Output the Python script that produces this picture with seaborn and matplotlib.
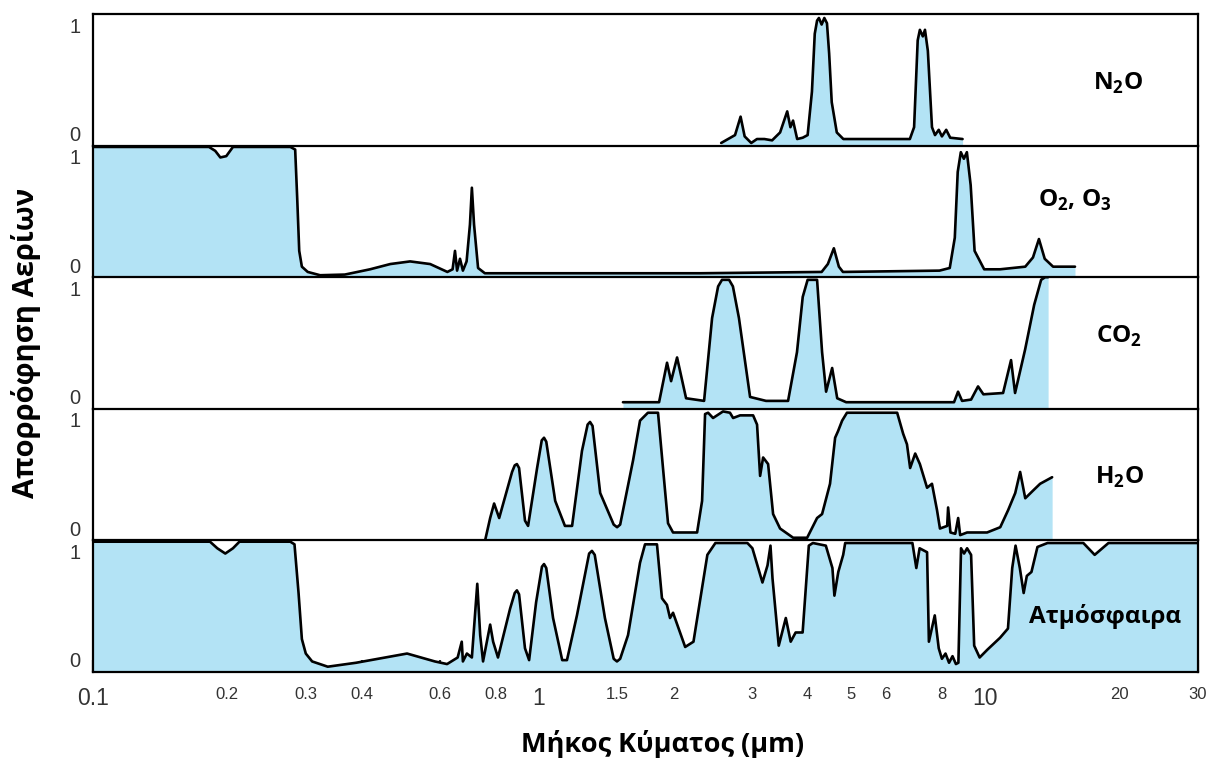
import numpy as np
import pandas as pd
import seaborn as sns
import matplotlib.pyplot as plt
from matplotlib.ticker import NullLocator
from matplotlib.transforms import ScaledTranslation

# wavelength (um) and absorption (0..1), one pair per gas
n2o_wl = [2.56, 2.75, 2.83, 2.89, 2.99, 3.08, 3.2, 3.33, 3.47, 3.6, 3.66, 3.71, 3.79, 3.9, 4.0,
          4.09, 4.15, 4.2, 4.24, 4.3, 4.36, 4.42, 4.47, 4.53, 4.65, 4.81, 6.78, 6.93, 7.06, 7.14,
          7.25, 7.33, 7.44, 7.6, 7.72, 7.87, 8.0, 8.18, 8.35, 8.9]
n2o_abs = [0.02, 0.08, 0.22, 0.07, 0.02, 0.05, 0.05, 0.04, 0.10, 0.26, 0.14, 0.19, 0.05, 0.06, 0.08,
           0.41, 0.85, 0.95, 0.97, 0.92, 0.97, 0.93, 0.70, 0.33, 0.10, 0.05, 0.05, 0.14, 0.80, 0.88,
           0.83, 0.88, 0.72, 0.14, 0.08, 0.12, 0.07, 0.12, 0.06, 0.05]

o3_wl = [0.1, 0.182, 0.188, 0.193, 0.199, 0.206, 0.277, 0.284, 0.287, 0.29, 0.294, 0.303, 0.323,
         0.367, 0.418, 0.464, 0.514, 0.57, 0.623, 0.64, 0.648, 0.655, 0.665, 0.675, 0.688, 0.70,
         0.707, 0.715, 0.73, 0.756, 2.3, 4.3, 4.44, 4.58, 4.7, 4.8, 7.9, 8.33, 8.55, 8.68, 8.82,
         8.96, 9.1, 9.28, 9.47, 9.95, 10.8, 12.3, 12.8, 13.2, 13.6, 14.2, 15.9]
o3_abs = [0.99, 0.99, 0.96, 0.91, 0.92, 0.99, 0.99, 0.97, 0.6, 0.2, 0.08, 0.04, 0.015,
          0.02, 0.06, 0.10, 0.12, 0.10, 0.04, 0.06, 0.20, 0.05, 0.14, 0.05, 0.12, 0.4,
          0.68, 0.4, 0.07, 0.03, 0.03, 0.04, 0.10, 0.22, 0.08, 0.04, 0.05, 0.07, 0.3, 0.8, 0.95,
          0.9, 0.95, 0.7, 0.2, 0.06, 0.06, 0.08, 0.15, 0.29, 0.14, 0.08, 0.08]

co2_wl = [1.542, 1.858, 1.936, 1.977, 2.039, 2.136, 2.344, 2.443, 2.52, 2.571, 2.667, 2.72, 2.806,
          2.972, 3.227, 3.616, 3.786, 3.9, 4.0, 4.2, 4.31, 4.40, 4.54, 4.66, 4.88, 8.516, 8.695,
          8.877, 9.3, 9.64, 9.91, 10.97, 11.43, 11.67, 12.29, 12.88, 13.35, 13.63, 13.84]
co2_abs = [0.05, 0.05, 0.35, 0.21, 0.39, 0.08, 0.06, 0.69, 0.93, 0.98, 0.98, 0.93, 0.69,
           0.09, 0.06, 0.06, 0.43, 0.85, 0.98, 0.98, 0.43, 0.13, 0.31, 0.08, 0.05, 0.05, 0.13,
           0.06, 0.07, 0.17, 0.11, 0.12, 0.37, 0.12, 0.45, 0.79, 0.98, 1.0, 1.0]

h2o_wl = [0.757, 0.777, 0.793, 0.814, 0.870, 0.882, 0.892, 0.902, 0.930, 0.945, 0.990, 1.014,
          1.026, 1.038, 1.087, 1.143, 1.186, 1.248, 1.285, 1.301, 1.318, 1.371, 1.47, 1.496,
          1.52, 1.625, 1.684, 1.754, 1.848, 1.896, 1.946, 1.997, 2.261, 2.320, 2.356, 2.393,
          2.455, 2.585, 2.679, 2.723, 2.823, 3.019, 3.081, 3.130, 3.179, 3.262, 3.347, 3.470,
          3.712, 3.990, 4.200, 4.310, 4.490, 4.610, 4.680, 4.780, 4.900, 6.350, 6.550, 6.680,
          6.790, 6.970, 7.140, 7.410, 7.600, 7.800, 7.920, 8.220, 8.260, 8.360, 8.570, 8.700,
          8.790, 9.110, 10.10, 10.81, 11.26, 11.68, 11.98, 12.30, 12.82, 13.28, 14.13]
h2o_abs = [0.0, 0.17, 0.28, 0.17, 0.52, 0.57, 0.58, 0.55, 0.15, 0.11, 0.55, 0.76,
           0.78, 0.75, 0.30, 0.11, 0.11, 0.68, 0.88, 0.90, 0.87, 0.36, 0.12, 0.10,
           0.12, 0.61, 0.91, 0.97, 0.97, 0.55, 0.13, 0.06, 0.06, 0.30, 0.96, 0.97,
           0.93, 0.98, 0.97, 0.93, 0.95, 0.95, 0.88, 0.49, 0.63, 0.58, 0.20, 0.09,
           0.02, 0.02, 0.17, 0.20, 0.43, 0.78, 0.83, 0.91, 0.97, 0.97, 0.81, 0.73,
           0.55, 0.66, 0.58, 0.40, 0.43, 0.23, 0.09, 0.11, 0.25, 0.06, 0.05, 0.17,
           0.04, 0.06, 0.06, 0.10, 0.23, 0.36, 0.52, 0.32, 0.38, 0.43, 0.48]

atm_wl = [0.100, 0.183, 0.190, 0.198, 0.206, 0.213, 0.277, 0.283, 0.289, 0.294, 0.300, 0.310,
          0.336, 0.389, 0.506, 0.584, 0.622, 0.657, 0.671, 0.675, 0.689, 0.707, 0.727, 0.738,
          0.749, 0.777, 0.789, 0.809, 0.861, 0.882, 0.892, 0.902, 0.930, 0.950, 0.985, 1.015,
          1.026, 1.038, 1.075, 1.127, 1.155, 1.216, 1.295, 1.314, 1.333, 1.405, 1.47, 1.495,
          1.52, 1.583, 1.684, 1.728, 1.838, 1.886, 1.935, 1.966, 1.997, 2.126, 2.219, 2.384,
          2.485, 2.931, 3.008, 3.168, 3.252, 3.302, 3.337, 3.446, 3.574, 3.665, 3.760, 3.898,
          4.025, 4.110, 4.394, 4.546, 4.593, 4.686, 4.806, 4.856, 6.87, 7.01, 7.13, 7.41, 7.48,
          7.71, 7.87, 8.00, 8.15, 8.30, 8.45, 8.60, 8.71, 8.83, 8.97, 9.11, 9.30, 9.45, 9.72,
          10.12, 10.80, 11.25, 11.5, 11.7, 11.96, 12.2, 12.4, 12.7, 13.1, 13.8, 16.6, 17.6,
          18.9, 30.0]
atm_abs = [0.99, 0.99, 0.94, 0.90, 0.94, 0.99, 0.99, 0.97, 0.6, 0.25, 0.14, 0.08,
           0.04, 0.07, 0.14, 0.08, 0.06, 0.11, 0.23, 0.08, 0.14, 0.11, 0.67, 0.28,
           0.08, 0.36, 0.23, 0.11, 0.48, 0.60, 0.62, 0.59, 0.18, 0.09, 0.53, 0.80,
           0.82, 0.79, 0.41, 0.09, 0.09, 0.43, 0.90, 0.92, 0.89, 0.41, 0.10, 0.08,
           0.10, 0.28, 0.83, 0.97, 0.97, 0.56, 0.51, 0.41, 0.45, 0.19, 0.23, 0.89,
           0.98, 0.98, 0.94, 0.68, 0.81, 0.96, 0.71, 0.20, 0.41, 0.23, 0.30, 0.30,
           0.96, 0.98, 0.96, 0.79, 0.58, 0.76, 0.89, 0.98, 0.98, 0.79, 0.94, 0.91, 0.23,
           0.43, 0.18, 0.10, 0.14, 0.07, 0.12, 0.06, 0.07, 0.94, 0.90, 0.94, 0.89, 0.20, 0.11,
           0.17, 0.26, 0.33, 0.79, 0.96, 0.79, 0.60, 0.73, 0.76, 0.95, 0.98, 0.98, 0.89,
           0.98, 0.98]

gas_names = [r'N$_\mathbf{2}$O', r'O$_\mathbf{2}$, O$_\mathbf{3}$', r'CO$_\mathbf{2}$',
             r'H$_\mathbf{2}$O', 'Ατμόσφαιρα']
name_pos = [(19.9, 0.47), (15.9, 0.58), (20.0, 0.55), (20.0, 0.48), (18.6, 0.42)]

tick_vals = [0.1, 0.2, 0.3, 0.4, 0.5, 0.6, 0.7, 0.8, 0.9, 1, 1.5, 2, 3, 4, 5, 6, 7, 8, 9, 10, 15, 20, 30]
tick_text = ['0.1', '0.2', '0.3', '0.4', '', '0.6', '', '0.8', '', '1', '1.5', '2', '3', '4', '5', '6',
             '', '8', '', '10', '', '20', '30']
big_ticks = ['0.1', '1', '10']

sns.set_style('white')
plt.rcParams['font.family'] = ['Open Sans', 'DejaVu Sans']
plt.rcParams['mathtext.fontset'] = 'custom'
plt.rcParams['mathtext.bf'] = 'Open Sans:bold'
plt.rcParams['mathtext.rm'] = 'Open Sans'

fill_col = '#b3e3f5'
series = [(n2o_wl, n2o_abs), (o3_wl, o3_abs), (co2_wl, co2_abs), (h2o_wl, h2o_abs), (atm_wl, atm_abs)]

fig, axes = plt.subplots(5, 1, figsize=(12.15, 7.58), dpi=100, sharex=True,
                         gridspec_kw={'hspace': 0})
fig.subplots_adjust(left=0.0765, right=0.986, top=0.9815, bottom=0.1135)

for i, ax in enumerate(axes):
    wl, ab = series[i]
    df = pd.DataFrame({'wl': wl, 'abs': ab})
    ax.set_xscale('log')
    ax.fill_between(df['wl'], 0, df['abs'], color=fill_col, lw=0)
    sns.lineplot(data=df, x='wl', y='abs', ax=ax, color='black', lw=1.9,
                 sort=False, estimator=None)
    ax.set_xlim(0.1, 30)
    ax.set_ylim(0, 1.0)
    ax.set_xlabel('')
    ax.set_ylabel('')
    for s in ax.spines.values():
        s.set_linewidth(1.6)
        s.set_color('black')
    if i < 4:
        ax.spines['bottom'].set_visible(False)
    ax.set_yticks([0, 1])
    ax.set_yticklabels(['0', '1'], fontsize=14.5, color='#333333', family='Liberation Sans')
    ax.tick_params(axis='y', length=0, pad=9)
    # the 0 / 1 labels sit inside the panel edges in the original
    lab = ax.get_yticklabels()
    lab[0].set_transform(lab[0].get_transform() + ScaledTranslation(0, 0.12, fig.dpi_scale_trans))
    lab[1].set_transform(lab[1].get_transform() + ScaledTranslation(0, -0.11, fig.dpi_scale_trans))
    nx, ny = name_pos[i]
    ax.text(nx, ny, gas_names[i], transform=ax.get_xaxis_transform(), ha='center', va='center',
            fontsize=17.5, fontweight='bold', color='black')

bot = axes[-1]
bot.set_xticks(tick_vals)
bot.set_xticklabels(tick_text)
bot.xaxis.set_minor_locator(NullLocator())
for t in bot.get_xticklabels():
    t.set_family('Liberation Sans')
    t.set_color('#333333')
    t.set_fontsize(16.5 if t.get_text() in big_ticks else 12)
bot.tick_params(axis='x', which='major', direction='in', length=9, width=1.6, pad=11, bottom=True)
for ax in axes[:-1]:
    ax.tick_params(axis='x', which='both', bottom=False, labelbottom=False)

fig.text(0.0214, 0.547, 'Απορρόφηση Αερίων', rotation=90, ha='center', va='center',
         fontsize=21, fontweight='bold', color='black')
fig.text(0.545, 0.0185, 'Μήκος Κύματος (µm)', ha='center', va='center',
         fontsize=19.5, fontweight='bold', color='black')

fig.savefig('out.png', dpi=100)
